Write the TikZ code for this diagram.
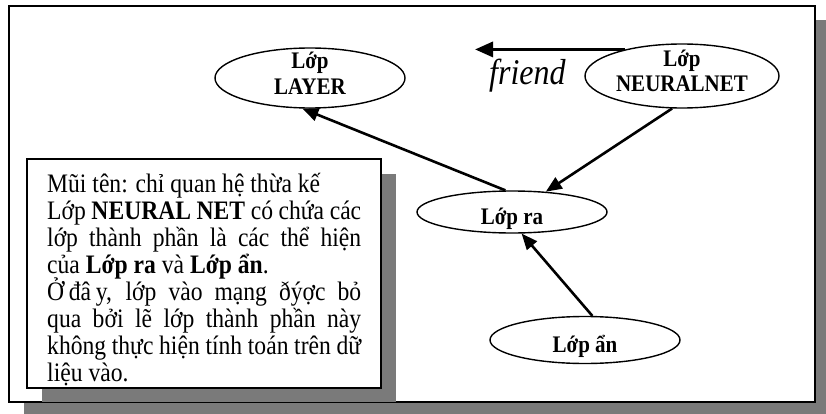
\documentclass[tikz,border=0pt]{standalone}
\usepackage{graphicx}
\usepackage{fontspec}
\setmainfont{Liberation Serif}
\usetikzlibrary{arrows.meta,shapes.geometric}
% text set slightly taller than wide
\newcommand\tallbox[1]{\scalebox{1}[1.13]{#1}}
\begin{document}
\begin{tikzpicture}[x=1pt,y=-1pt,
  shadowfill/.style={fill=black!52},
  frame/.style={draw=black, line width=2pt, fill=white},
  cls/.style={ellipse, draw=black, line width=1.4pt, minimum width=190pt,
              minimum height=#1, inner sep=0pt},
  lbl/.style={anchor=base, inner sep=0pt, font=\bfseries\fontsize{21}{24}\selectfont},
  note/.style={anchor=base west, inner sep=0pt, font=\fontsize{23.6}{27}\selectfont},
  arr/.style={line width=2.6pt, -{Triangle[length=16pt,width=13pt]}},
  friendarr/.style={line width=3.2pt, -{Triangle[length=18pt,width=15pt]}},
]
\useasboundingbox (0,0) rectangle (826,414);

% outer frame with its drop shadow
\fill[shadowfill] (24,20) rectangle (826,414);
\draw[frame] (9,6) rectangle (815,402);

% note box with its drop shadow
\fill[shadowfill] (42,174) rectangle (396,402);
\draw[frame] (27,159) rectangle (381,388);

% note text, one node per line
\node[note] (b1) at (47,192) {\tallbox{Mũi tên: chỉ quan hệ thừa kế}};
\node[note] (b2) at (47,219) {\tallbox{\makebox[314pt][s]{Lớp \textbf{NEURAL NET} có chứa các}}};
\node[note] (b3) at (47,246) {\tallbox{\makebox[314pt][s]{lớp thành phần là các thể hiện}}};
\node[note] (b4) at (47,273) {\tallbox{của \textbf{Lớp ra} và \textbf{Lớp ẩn}.}};
\node[note] (b5) at (47,300) {\tallbox{\makebox[314pt][s]{Ở\hspace{0.2em}đâ\hspace{0.2em}y, lớp vào mạng ðýợc bỏ}}};
\node[note] (b6) at (47,327) {\tallbox{\makebox[314pt][s]{qua bởi lẽ lớp thành phần này}}};
\node[note] (b7) at (47,354) {\tallbox{\makebox[314pt][s]{không thực hiện tính toán trên dữ}}};
\node[note] (b8) at (47,381) {\tallbox{liệu vào.}};

% classes
\node[cls=60pt] (layer) at (310,78) {};
\node[cls=64pt, minimum width=194pt] (net) at (682,76) {};
\node[cls=42pt] (ra) at (512,212) {};
\node[cls=47pt] (an) at (585,340) {};

\node[lbl] (layerA) at (310,69) {\tallbox{Lớp}};
\node[lbl] (layerB) at (310,95) {\tallbox{LAYER}};
\node[lbl] (netA) at (682,67) {\tallbox{Lớp}};
\node[lbl] (netB) at (682,92) {\tallbox{NEURALNET}};
\node[lbl] (raT) at (512,224) {\tallbox{Lớp ra}};
\node[lbl] (anT) at (585,352) {\tallbox{Lớp ẩn}};

% friend relation
\coordinate (fe) at (475,50);
\draw[friendarr] (net.155) -- (net.155 -| fe);
\node[anchor=base west, inner sep=0pt, font=\itshape\fontsize{32}{36}\selectfont]
  (friend) at (489,85) {\tallbox{friend}};

% inheritance and containment
\draw[arr] (ra.107) -- (layer.256);
\draw[arr] (net.253) -- (ra.31);
\draw[arr] (an.73) -- (ra.294);
\end{tikzpicture}
\end{document}
